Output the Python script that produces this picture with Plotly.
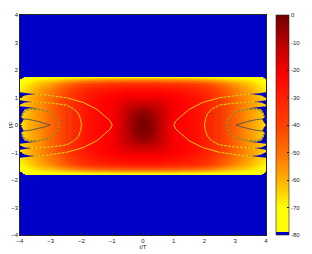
import plotly.graph_objects as go

# Quadrant of the level map (dB); mirrored for the other three
x_half = [0, .25, .5, .75, 1, 1.25, 1.5, 1.75, 2, 2.25, 2.5, 2.75, 3, 3.25, 3.5, 3.75, 4]
y_half = [0, .1, .2, .3, .4, .5, .6, .7, .8, .9, 1, 1.1, 1.2, 1.3, 1.4, 1.5, 1.6, 1.7, 1.8, 2, 4]
z_half = [
 [0, -4, -9, -16, -21, -22, -24, -26, -29, -33, -38, -43, -48, -53, -57, -61, -66],
 [-1, -4, -9, -16, -21, -22, -24, -26, -29, -33, -38, -43, -48, -53, -57, -61, -66],
 [-1, -4, -9, -16, -21, -22, -24, -26, -29, -33, -38, -43, -48, -53, -57, -61, -66],
 [-2, -5, -10, -16, -21, -22, -24, -26, -29, -33, -38, -43, -48, -53, -57, -61, -66],
 [-4, -6, -10, -16, -21, -22, -24, -26, -29, -33, -38, -43, -48, -53, -57, -61, -66],
 [-5, -7, -11, -16, -21, -22, -24, -26, -29, -33, -38, -43, -48, -53, -57, -61, -66],
 [-7, -9, -12, -16, -21, -22, -24, -26, -29, -33, -38, -43, -48, -53, -57, -61, -66],
 [-10, -11, -13, -17, -21, -22, -24, -26, -29, -33, -38, -43, -48, -53, -57, -61, -66],
 [-13, -14, -15, -18, -21, -22, -24, -26, -29, -33, -38, -43, -48, -53, -57, -61, -66],
 [-16, -16, -17, -19, -21, -22, -24, -26, -29, -33, -38, -43, -48, -53, -57, -61, -66],
 [-19, -19, -19, -20, -22, -23, -25, -27, -30, -34, -39, -44, -49, -53, -57, -61, -66],
 [-21, -21, -21, -22, -23, -24, -26, -28, -31, -35, -40, -45, -50, -54, -58, -62, -67],
 [-23, -23, -23, -24, -25, -26, -27, -29, -32, -37, -42, -47, -51, -55, -59, -63, -67],
 [-25, -25, -25, -26, -27, -28, -29, -31, -34, -38, -43, -48, -52, -56, -60, -64, -68],
 [-28, -28, -28, -29, -30, -31, -32, -34, -37, -41, -45, -50, -54, -58, -61, -65, -69],
 [-34, -34, -34, -35, -36, -37, -38, -40, -42, -45, -49, -53, -57, -60, -63, -67, -70],
 [-46, -46, -46, -47, -47, -48, -49, -50, -52, -54, -57, -60, -62, -64, -66, -69, -72],
 [-62, -62, -62, -62, -62, -63, -63, -64, -65, -66, -67, -68, -69, -70, -71, -74, -80],
 [-80, -80, -80, -80, -80, -80, -80, -80, -80, -80, -80, -80, -80, -80, -80, -80, -80],
 [-80, -80, -80, -80, -80, -80, -80, -80, -80, -80, -80, -80, -80, -80, -80, -80, -80],
 [-80, -80, -80, -80, -80, -80, -80, -80, -80, -80, -80, -80, -80, -80, -80, -80, -80],
]

# Null ridges in the upper right quadrant (x, y)
ridge_a_x = [1.0, 1.07, 1.24, 1.5, 1.94, 2.48, 3.02, 3.52]
ridge_a_y = [0, .15, .32, .57, .82, .99, 1.08, 1.14]
ridge_b_x = [2.0, 2.03, 2.1, 2.25, 2.48, 2.92, 3.35, 3.65]
ridge_b_y = [0, .2, .42, .58, .72, .79, .82, .84]
ridge_c_x = [2.72, 2.75, 2.83, 3.05, 3.37, 3.7, 3.85, 3.93]
ridge_c_y = [0, .18, .32, .48, .57, .58, .5, .32]
ridge_d_x = [3.02, 3.2, 3.45, 3.7, 3.92]
ridge_d_y = [0, .07, .14, .2, .22]

# Blue notches at the band ends (x, y)
notch_1_x = [4, 3.85, 3.7, 3.5, 3.7, 3.85, 4]
notch_1_y = [1.19, 1.16, 1.15, 1.13, 1.11, 1.07, .98]
notch_2_x = [4, 3.85, 3.62, 3.85, 4]
notch_2_y = [.9, .87, .84, .82, .74]
notch_3_x = [4, 3.85, 3.69, 3.4, 3.69, 3.85, 3.93, 3.96, 3.88, 3.93, 4]
notch_3_y = [.68, .67, .65, .6, .61, .56, .42, .28, .22, .1, 0]

COLORSCALE = [
    [0, "#0000c8"], [1.1 / 80, "#0000c8"], [1.2 / 80, "#ffff00"], [10 / 80, "#ffff00"],
    [20 / 80, "#ffb000"], [30 / 80, "#ff7000"], [40 / 80, "#ff4000"], [50 / 80, "#ff2000"], [58 / 80, "#ff0000"],
    [70 / 80, "#b80000"], [1, "#700000"],
]
FONT = "Liberation Sans"

x_full = [-v for v in x_half[:0:-1]] + x_half
y_full = [-v for v in y_half[:0:-1]] + y_half
rows = z_half[:0:-1] + z_half
z_full = [r[:0:-1] + r for r in rows]

fig = go.Figure(go.Heatmap(
    x=x_full, y=y_full, z=z_full, zmin=-80, zmax=0, zsmooth="best", colorscale=COLORSCALE,
    colorbar=dict(
        xref="container", x=268 / 304, xanchor="left", thickness=13, thicknessmode="pixels",
        xpad=0, ypad=0, y=0.5, len=1, lenmode="fraction", outlinecolor="#222", outlinewidth=0.6,
        tickvals=[0, -10, -20, -30, -40, -50, -60, -70, -80],
        ticktext=["0", "-10", "-20", "-30", "-40", "-50", "-60", "-70", "-80"],
        ticks="inside", ticklen=2, tickcolor="#222", tickwidth=0.6,
        tickfont=dict(family=FONT, size=6, color="#222"),
    ),
))

for nx, ny in [(notch_1_x, notch_1_y), (notch_2_x, notch_2_y), (notch_3_x, notch_3_y)]:
    for sx in (1, -1):
        px = [sx * v for v in nx] + [sx * v for v in nx[::-1]]
        py = list(ny) + [-v for v in ny[::-1]]
        fig.add_trace(go.Scatter(x=px, y=py, mode="lines", fill="toself", fillcolor="#0000c8",
                                 line=dict(width=0, color="#0000c8"), hoverinfo="skip", showlegend=False))

for rx, ry, c, w in [(ridge_a_x, ridge_a_y, "#ffc800", 1.0), (ridge_b_x, ridge_b_y, "#ffc800", 1.0),
                     (ridge_c_x, ridge_c_y, "#a8a020", 1.0), (ridge_d_x, ridge_d_y, "#3a4a60", 0.8)]:
    for sx in (1, -1):
        px = [sx * v for v in rx[:0:-1]] + [sx * v for v in rx]
        py = [v for v in ry[:0:-1]] + [-v for v in ry]
        fig.add_trace(go.Scatter(x=px, y=py, mode="lines", line=dict(color=c, width=w),
                                 hoverinfo="skip", showlegend=False))
        if rx is not ridge_d_x:
            fig.add_trace(go.Scatter(x=[p for p in px if abs(p) > 2.2], y=[q for p, q in zip(px, py) if abs(p) > 2.2],
                                     mode="lines", line=dict(color="#404040", width=0.7, dash="1px 3px"),
                                     hoverinfo="skip", showlegend=False))

axis = dict(range=[-4, 4], tickvals=[-4, -3, -2, -1, 0, 1, 2, 3, 4], ticks="inside", ticklen=2,
            tickcolor="#222", tickwidth=0.6, showgrid=False, zeroline=False, showline=True,
            linecolor="#222", linewidth=0.6, mirror=True, automargin=False,
            tickfont=dict(family=FONT, size=6, color="#222"))

fig.update_layout(
    width=304, height=246, margin=dict(l=12, r=46, t=7, b=19, pad=0, autoexpand=False),
    paper_bgcolor="white", plot_bgcolor="white", showlegend=False,
    xaxis=dict(axis, title=dict(text="t/T", font=dict(family=FONT, size=6, color="#222"), standoff=1)),
    yaxis=dict(axis, title=dict(text="f/F", font=dict(family=FONT, size=6, color="#222"), standoff=1)),
)
fig.write_html("out.html")
